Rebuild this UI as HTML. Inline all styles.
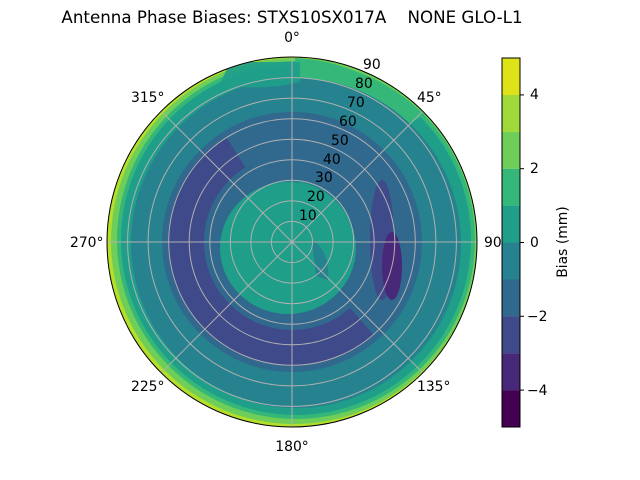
<!DOCTYPE html>
<html><head><style>body{margin:0;background:#fff}svg{display:block}text{font-family:"DejaVu Sans","Liberation Sans",sans-serif;font-size:13.9px;fill:#000}</style></head><body>
<svg width="640" height="480" viewBox="0 0 640 480">
<defs><clipPath id="c"><circle cx="292" cy="242" r="185"/></clipPath></defs>
<text x="292" y="23" text-anchor="middle" style="font-size:16.7px;white-space:pre" xml:space="preserve">Antenna Phase Biases: STXS10SX017A    NONE GLO-L1</text>
<g clip-path="url(#c)">
<circle cx="292" cy="242" r="185" fill="#b5de2b"/>
<circle cx="294" cy="241" r="183" fill="#6ece58"/>
<circle cx="296" cy="240" r="179" fill="#35b779"/>
<circle cx="296" cy="240" r="175" fill="#1f9e89"/>
<path d="M295 58 Q360 60 425 115 L385 135 Q340 92 300 90 Z" fill="#35b779"/>
<circle cx="296" cy="243" r="165" fill="#26828e"/>
<path d="M230 62 L 300 62 L 300 82 Q260 92 220 84 Z" fill="#1f9e89" opacity="0.9"/>
<circle cx="292" cy="242" r="96" fill="none" stroke="#31688e" stroke-width="68"/>
<circle cx="292" cy="242" r="106" fill="none" stroke="#3e4a89" stroke-width="36" stroke-dasharray="350 1000" stroke-dashoffset="-90"/>
<ellipse cx="382" cy="240" rx="12" ry="60" fill="#3e4a89"/>
<ellipse cx="392" cy="266" rx="10" ry="34" fill="#482878"/>
<ellipse cx="288" cy="248" rx="68" ry="66" fill="#1f9e89"/>
<path d="M300 182 Q342 190 342 240 L322 250 Q320 202 295 197 Z" fill="#1f9e89"/>
<path d="M312 240 Q330 250 328 280 L316 276 Z" fill="#26828e"/>
</g>
<g fill="none" stroke="#b0b0b0" stroke-width="1">
<circle cx="292" cy="242" r="20.6"/><circle cx="292" cy="242" r="41.1"/><circle cx="292" cy="242" r="61.7"/><circle cx="292" cy="242" r="82.2"/><circle cx="292" cy="242" r="102.8"/><circle cx="292" cy="242" r="123.3"/><circle cx="292" cy="242" r="143.9"/><circle cx="292" cy="242" r="164.4"/>
<line x1="292" y1="57" x2="292" y2="427"/><line x1="107" y1="242" x2="477" y2="242"/>
<line x1="161.2" y1="111.2" x2="422.8" y2="372.8"/><line x1="161.2" y1="372.8" x2="422.8" y2="111.2"/>
</g>
<circle cx="292" cy="242" r="185" fill="none" stroke="#000" stroke-width="1"/>
<text x="292" y="42" text-anchor="middle">0°</text>
<text x="417" y="102">45°</text>
<text x="484" y="247">90°</text>
<text x="417" y="391">135°</text>
<text x="292" y="451" text-anchor="middle">180°</text>
<text x="131" y="391">225°</text>
<text x="70" y="247">270°</text>
<text x="131" y="102">315°</text>
<text x="299" y="220">10</text><text x="307" y="201">20</text><text x="315" y="182">30</text><text x="323" y="164">40</text><text x="331" y="145">50</text><text x="339" y="126">60</text><text x="347" y="107">70</text><text x="355" y="88">80</text><text x="363" y="69">90</text>
<g>
<rect x="502" y="390.1" width="18" height="37" fill="#440154"/>
<rect x="502" y="353.2" width="18" height="37" fill="#482878"/>
<rect x="502" y="316.3" width="18" height="37" fill="#3e4a89"/>
<rect x="502" y="279.4" width="18" height="37" fill="#31688e"/>
<rect x="502" y="242.5" width="18" height="37" fill="#26828e"/>
<rect x="502" y="205.6" width="18" height="37" fill="#1f9e89"/>
<rect x="502" y="168.7" width="18" height="37" fill="#35b779"/>
<rect x="502" y="131.8" width="18" height="37" fill="#6ece58"/>
<rect x="502" y="94.9" width="18" height="37" fill="#9fda3a"/>
<rect x="502" y="58" width="18" height="37" fill="#dde318"/>
<rect x="502" y="58" width="18" height="369" fill="none" stroke="#000" stroke-width="1"/>
<g stroke="#000"><line x1="520" y1="390.1" x2="524" y2="390.1"/><line x1="520" y1="316.3" x2="524" y2="316.3"/><line x1="520" y1="242.5" x2="524" y2="242.5"/><line x1="520" y1="168.7" x2="524" y2="168.7"/><line x1="520" y1="94.9" x2="524" y2="94.9"/></g>
<text x="527" y="395">−4</text><text x="527" y="321">−2</text><text x="530" y="247">0</text><text x="530" y="173">2</text><text x="530" y="99">4</text>
<text transform="translate(567,242) rotate(-90)" text-anchor="middle">Bias (mm)</text>
</g>
</svg>
</body></html>
